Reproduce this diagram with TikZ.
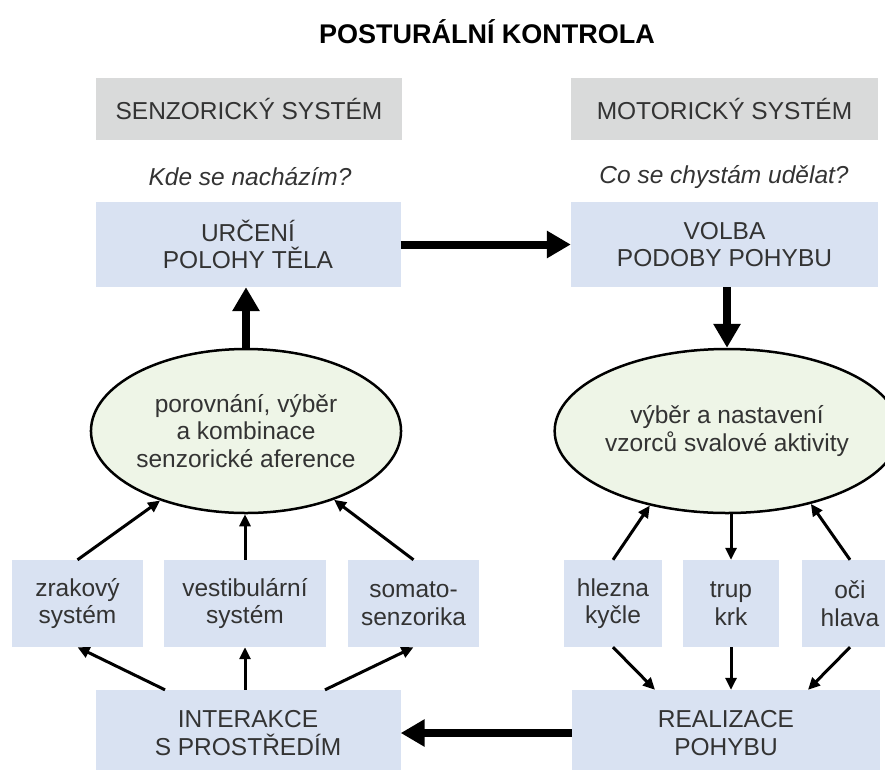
\documentclass[tikz,border=0pt]{standalone}
\usepackage{fontspec}
\setmainfont{Liberation Sans}
\usepackage{xcolor}
\usetikzlibrary{shapes.geometric,arrows.meta}

\definecolor{boxblue}{HTML}{D9E2F2}
\definecolor{boxgray}{HTML}{D9DADA}
\definecolor{ovalgreen}{HTML}{EEF5E7}
\definecolor{textgray}{HTML}{333333}

\begin{document}
\begin{tikzpicture}[
    x=1pt, y=-1pt,
    every node/.style={font=\fontsize{24.5}{27.5}\selectfont, text=textgray, align=center},
    graybox/.style={fill=boxgray, minimum width=306, minimum height=62, inner sep=0},
    bluebox/.style={fill=boxblue, minimum width=305, minimum height=85, inner sep=0},
    smallbox/.style={fill=boxblue, minimum height=87, inner sep=0},
    oval/.style={ellipse, draw=black, line width=2.5, fill=ovalgreen, minimum height=164, inner sep=0},
    thickarrow/.style={draw=black, line width=8, -{Triangle[length=24pt,width=26pt]}},
    thinarrow/.style={draw=black, line width=3, -{Triangle[length=12pt,width=11pt]}},
  ]
  \useasboundingbox (0,0) rectangle (885,769);
  \clip (0,0) rectangle (885,769);

  \node[font=\bfseries\fontsize{27}{32}\selectfont, text=black] (title) at (487,32) {POSTURÁLNÍ KONTROLA};

  \node[graybox] (senz) at (249,109) {SENZORICKÝ SYSTÉM};
  \node[graybox, minimum width=307] (motor) at (724.5,109) {MOTORICKÝ SYSTÉM};
  \node[font=\itshape\fontsize{24.5}{27.5}\selectfont] (kde) at (250,177) {Kde se nacházím?};
  \node[font=\itshape\fontsize{24.5}{27.5}\selectfont] (co) at (724,177) {Co se chystám udělat?};

  \node[bluebox] (urceni) at (248,244.5) {URČENÍ\\POLOHY TĚLA};
  \node[bluebox, minimum width=307] (volba) at (724.5,244.5) {VOLBA\\PODOBY POHYBU};

  \node[oval, minimum width=298] (ovalL) at (246,431) {porovnání, výběr\\a kombinace\\senzorické aference};
  \node[oval, minimum width=306] (ovalR) at (727,431) {výběr a nastavení\\vzorců svalové aktivity};

  \node[smallbox, minimum width=131] (zrak) at (77.5,603.5) {zrakový\\systém};
  \node[smallbox, minimum width=162] (vest) at (245,603.5) {vestibulární\\systém};
  \node[smallbox, minimum width=131] (somato) at (413.5,603.5) {somato-\\senzorika};
  \node[smallbox, minimum width=98] (hlezna) at (613,603.5) {hlezna\\kyčle};
  \node[smallbox, minimum width=96] (trup) at (731,603.5) {trup\\krk};
  \node[smallbox, minimum width=96] (oci) at (850,603.5) {oči\\hlava};

  \node[bluebox, minimum height=86] (inter) at (248,733) {INTERAKCE\\S PROSTŘEDÍM};
  \node[bluebox, minimum width=308, minimum height=86] (real) at (726,733) {REALIZACE\\POHYBU};

  \draw[thickarrow] (urceni) -- (volba);
  \draw[thickarrow] (ovalL.north) -- (ovalL.north |- urceni.south);
  \draw[thickarrow] (ovalR.north |- volba.south) -- (ovalR.north);
  \draw[thickarrow] (real) -- (inter);

  \draw[thinarrow] (zrak.north) -- (ovalL.219);
  \draw[thinarrow] (vest.north) -- (vest.north |- ovalL.south);
  \draw[thinarrow] (somato.north) -- (ovalL.322);
  \draw[thinarrow] ([xshift=-83]inter.north) -- (zrak.south);
  \draw[thinarrow] (inter.north -| vest.north) -- (vest.south);
  \draw[thinarrow] ([xshift=77]inter.north) -- (somato.south);

  \draw[thinarrow] (hlezna.north) -- (ovalR.224);
  \draw[thinarrow] (trup.north |- ovalR.south) -- (trup.north);
  \draw[thinarrow] (oci.north) -- (ovalR.319);
  \draw[thinarrow] (hlezna.south) -- ([xshift=-71]real.north);
  \draw[thinarrow] (trup.south) -- (trup.south |- real.north);
  \draw[thinarrow] (oci.south) -- ([xshift=82]real.north);
\end{tikzpicture}
\end{document}
